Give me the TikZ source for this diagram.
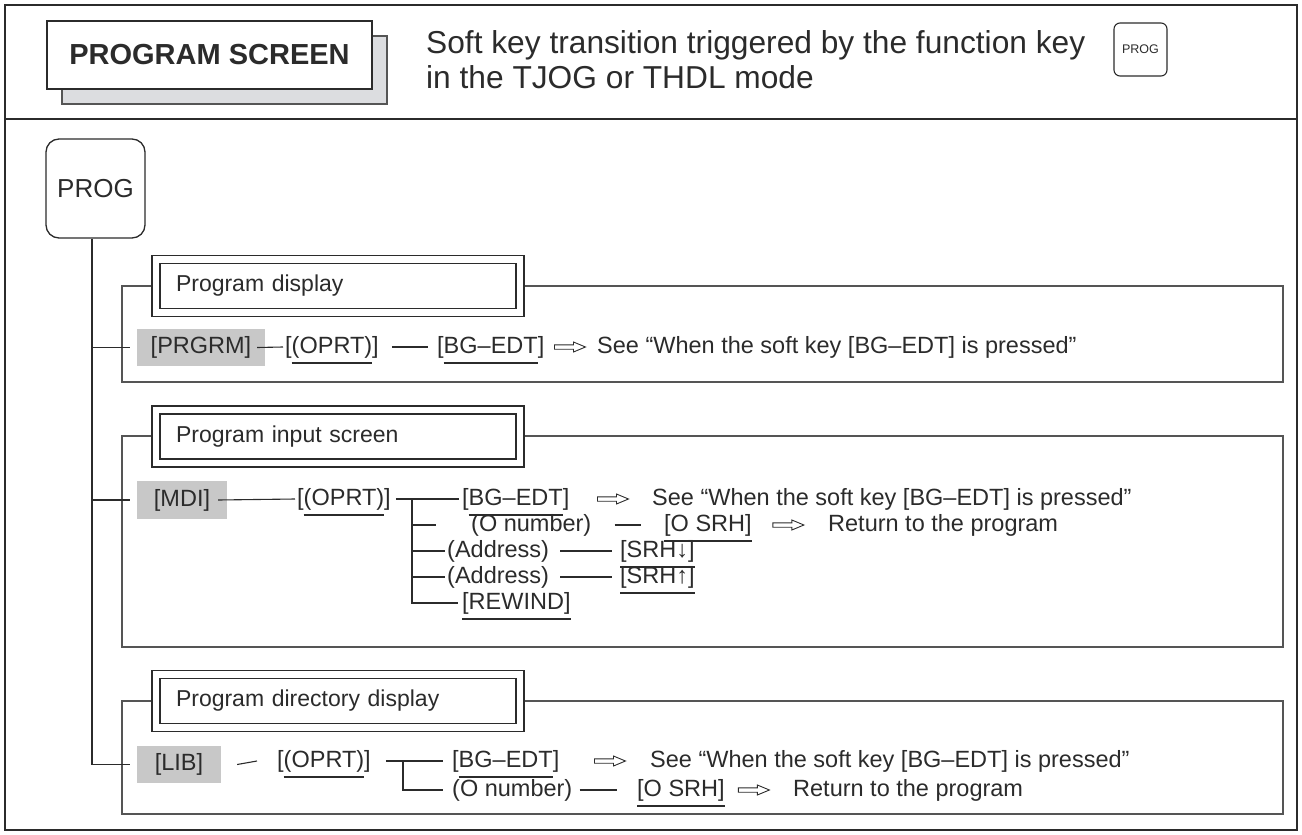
\documentclass[tikz,border=0pt]{standalone}
\usepackage{fontspec}
\setmainfont{Liberation Sans}
\newsavebox\ulb
\newcommand\kul[1]{\sbox\ulb{#1}\rlap{\rule[-11pt]{\wd\ulb}{1.8pt}}\usebox\ulb}
\definecolor{ink}{HTML}{2B2B2B}
\definecolor{frm}{HTML}{555555}
\definecolor{keygray}{HTML}{C8C8C8}
\definecolor{shadowgray}{HTML}{DCDDE0}
% hollow "implies" arrow starting a given gap right of a node
\newcommand\harrow[2]{\draw[draw=ink, line width=0.9pt, line join=miter] ([xshift=#2]#1.east) ++(0,2.2) -- ++(19,0) -- ++(0,2.8) -- ++(12,-5) -- ++(-12,-5) -- ++(0,2.8) -- ++(-19,0) -- cycle;}
\begin{document}
\begin{tikzpicture}[x=1pt,y=-1pt,
  txt/.style={inner sep=0pt, anchor=west, text height=17pt, text depth=5pt, font=\fontsize{23.5}{28}\selectfont, text=ink},
  graykey/.style={fill=keygray, inner sep=0pt, text height=17pt, text depth=5pt, font=\fontsize{23.5}{28}\selectfont, text=ink},
  conn/.style={draw=ink, line width=1.1pt},
  secframe/.style={draw=frm, line width=1.2pt},
  sectitle/.style={draw=ink, double, double distance=6.5pt, line width=1.3pt, fill=white, minimum width=364pt, minimum height=53pt, text width=324pt, inner xsep=20pt, inner ysep=0pt, align=left, font=\fontsize{23}{28}\selectfont, text=ink},
]
\useasboundingbox (0,0) rectangle (1302,835);

% header
\draw[draw=ink, line width=2.2pt] (5,5) rectangle (1297,830);
\draw[draw=ink, line width=1.4pt] (5,119) -- (1297,119);
\node[draw=frm, line width=1.2pt, fill=shadowgray, minimum width=325pt, minimum height=68pt, inner sep=0pt] (scrshadow) at (224.5,70) {};
\node[draw=ink, line width=1.2pt, fill=white, minimum width=325pt, minimum height=68pt, inner sep=0pt, font=\bfseries\fontsize{29}{32}\selectfont, text=ink] (scrtitle) at (209.5,55) {PROGRAM SCREEN};
\node[anchor=north west, inner sep=0pt, align=left, font=\fontsize{31.7}{35}\selectfont, text=ink] (headtext) at (426,30) {Soft key transition triggered by the function key\\in the TJOG or THDL mode};
\node[draw=ink, line width=1.1pt, rounded corners=6pt, minimum width=53pt, minimum height=53pt, inner sep=0pt, font=\fontsize{12.5}{14}\selectfont, text=ink] (progkey) at (1140.5,49.5) {PROG};

% PROG big key
\node[draw=ink, line width=1.3pt, rounded corners=13pt, minimum width=99pt, minimum height=99pt, inner sep=0pt, font=\fontsize{26}{30}\selectfont, text=ink] (prog) at (95.5,188.5) {PROG};
\coordinate (trunkTop) at ([xshift=-3.5pt]prog.south);

% ---------- section 1
\draw[secframe] (122,286) rectangle (1283,382);
\node[sectitle] (t1) at (338,286) {Program display};
\node[graykey, minimum width=128pt, minimum height=37pt] (prgrm) at (201,347.5) {[PRGRM]};
\node[txt] (oprtA) at (285,347) {[\kul{(OPRT)}]};
\node[txt] (bgA) at (437,347) {[\kul{BG–EDT}]};
\node[txt] (seeA) at (597,347) {See “When the soft key [BG–EDT] is pressed”};
\draw[conn] ([xshift=-8pt]prgrm.east) -- ([xshift=-2pt]oprtA.west);
\draw[conn] ([xshift=13pt]oprtA.east) -- ([xshift=-9pt]bgA.west);
\harrow{bgA}{10pt}

% ---------- section 2
\draw[secframe] (122,436) rectangle (1283,647);
\node[sectitle] (t2) at (338,436.5) {Program input screen};
\node[graykey, minimum width=90pt, minimum height=38pt] (mdi) at (182,500) {[MDI]};
\node[txt] (oprtB) at (297,499) {[\kul{(OPRT)}]};
\node[txt] (bgB) at (462,499) {[\kul{BG–EDT}]};
\node[txt] (seeB) at (652,499) {See “When the soft key [BG–EDT] is pressed”};
\node[txt] (onumB) at (471,525) {(O number)};
\node[txt] (osrhB) at (664,525) {\kul{[O SRH]}};
\node[txt] (retB) at (828,525) {Return to the program};
\node[txt] (addr1) at (447,551) {(Address)};
\node[txt] (srhd) at (620,551) {\kul{[SRH↓]}};
\node[txt] (addr2) at (447,577) {(Address)};
\node[txt] (srhu) at (620,577) {\kul{[SRH↑]}};
\node[txt] (rewB) at (462,603) {\kul{[REWIND]}};
\coordinate (jB) at (412,499);
\draw[conn] ([xshift=-9pt]mdi.east) -- ([xshift=-2pt]oprtB.west);
\draw[conn] ([xshift=5pt]oprtB.east) -- ([xshift=-3pt]bgB.west);
\draw[conn] (jB) |- ([xshift=-4pt]rewB.west);
\draw[conn] (jB |- onumB.west) -- ([xshift=-35pt]onumB.west);
\draw[conn] (jB |- addr1.west) -- ([xshift=-2pt]addr1.west);
\draw[conn] (jB |- addr2.west) -- ([xshift=-2pt]addr2.west);
\harrow{bgB}{28pt}
\draw[conn] ([xshift=23pt]onumB.east) -- ([xshift=-23pt]osrhB.west);
\harrow{osrhB}{21pt}
\draw[conn] ([xshift=11pt]addr1.east) -- ([xshift=-8pt]srhd.west);
\draw[conn] ([xshift=11pt]addr2.east) -- ([xshift=-8pt]srhu.west);

% ---------- section 3
\draw[secframe] (122,701) rectangle (1283,814);
\node[sectitle] (t3) at (338,701) {Program directory display};
\node[graykey, minimum width=84pt, minimum height=37pt] (lib) at (179,764.5) {[LIB]};
\node[txt] (oprtC) at (277,761) {[\kul{(OPRT)}]};
\node[txt] (bgC) at (452,761) {[\kul{BG–EDT}]};
\node[txt] (seeC) at (650,761) {See “When the soft key [BG–EDT] is pressed”};
\node[txt] (onumC) at (452,790) {(O number)};
\node[txt] (osrhC) at (637,790) {\kul{[O SRH]}};
\node[txt] (retC) at (793,790) {Return to the program};
\coordinate (jC) at (403,761);
\draw[conn] ([xshift=16pt]lib.east) -- ([xshift=-20pt]oprtC.west);
\draw[conn] ([xshift=15pt]oprtC.east) -- ([xshift=-9pt]bgC.west);
\draw[conn] (jC) |- ([xshift=-9pt]onumC.west);
\harrow{bgC}{35pt}
\draw[conn] ([xshift=7pt]onumC.east) -- ([xshift=-20pt]osrhC.west);
\harrow{osrhC}{13.5pt}

% trunk
\draw[conn] (trunkTop) |- ([xshift=-7pt]lib.west);
\draw[conn] (trunkTop |- prgrm.west) -- ([xshift=-7pt]prgrm.west);
\draw[conn] (trunkTop |- mdi.west) -- ([xshift=-7pt]mdi.west);
\end{tikzpicture}
\end{document}
